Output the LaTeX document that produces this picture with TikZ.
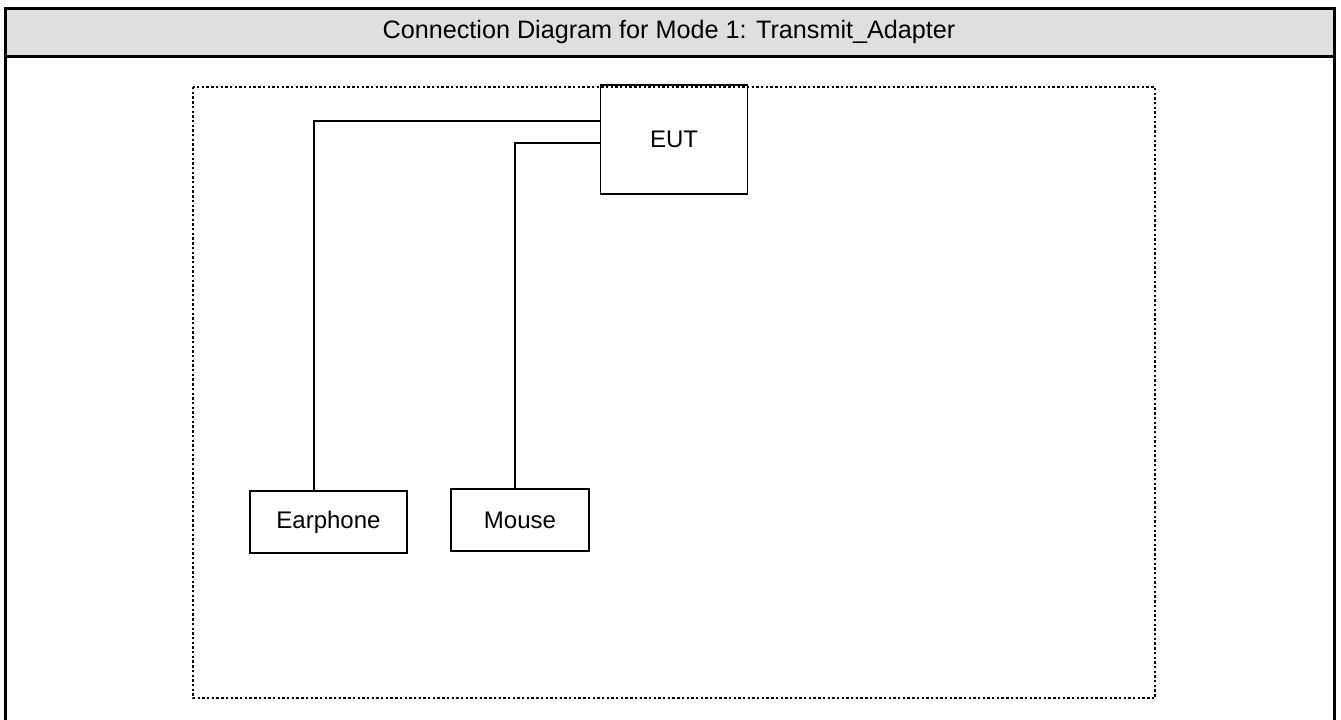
\documentclass[tikz,border=0pt]{standalone}
\usepackage{fontspec}
\setmainfont{Liberation Sans}
\begin{document}
\begin{tikzpicture}[x=1pt,y=-1pt,
  devbox/.style={draw,line width=1.8pt,rectangle,inner sep=0pt,font=\fontsize{24}{28}\selectfont},
  wire/.style={line width=1.7pt},
  frameline/.style={line width=3pt},
  dottedbox/.style={line width=2.4pt,dash pattern=on 2.4pt off 2.3pt}]
\useasboundingbox (0,0) rectangle (1341,720);
% header
\fill[gray!25!white] (5,8) rectangle (1334,56);
\draw[frameline] (5,720) -- (5,8) -- (1334,8) -- (1334,720);
\draw[frameline] (5,56) -- (1334,56);
\node[font=\fontsize{25.2}{30}\selectfont] (title) at (669,32) {Connection Diagram for Mode 1: Transmit\_Adapter};
% dotted enclosure
\draw[dottedbox] (193,87) rectangle (1155,698);
% devices
\node[devbox,minimum width=147pt,minimum height=109pt] (eut) at (674,139.5) {EUT};
\node[devbox,minimum width=157pt,minimum height=62pt] (earphone) at (328.5,522) {Earphone};
\node[devbox,minimum width=138pt,minimum height=62pt] (mouse) at (520,520) {Mouse};
% wires
\coordinate (ea) at (314,121);
\coordinate (ma) at (515,143);
\draw[wire] (eut.west |- ea) -- (ea) -- (ea |- earphone.north);
\draw[wire] (eut.west |- ma) -- (ma) -- (ma |- mouse.north);
\end{tikzpicture}
\end{document}
